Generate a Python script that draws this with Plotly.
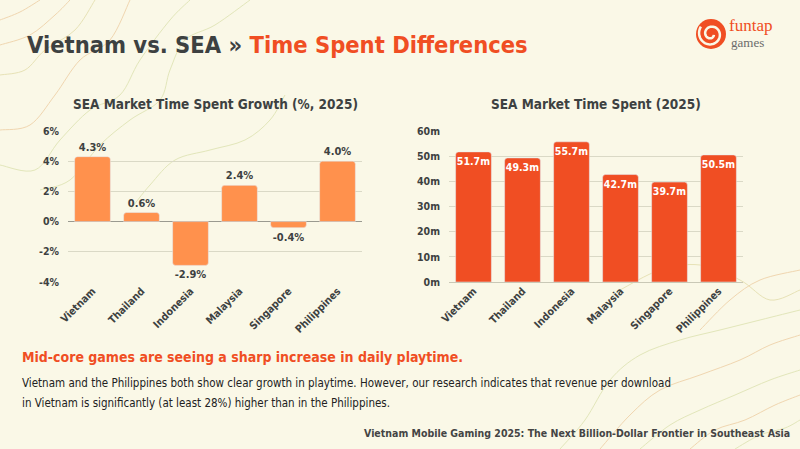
import plotly.graph_objects as go
import numpy as np

countries = ["Vietnam", "Thailand", "Indonesia", "Malaysia", "Singapore", "Philippines"]
growth_pct = [4.3, 0.6, -2.9, 2.4, -0.4, 4.0]
time_spent_m = [51.7, 49.3, 55.7, 42.7, 39.7, 50.5]
growth_ticks = [-4, -2, 0, 2, 4, 6]
time_ticks = [0, 10, 20, 30, 40, 50, 60]

W, H = 800, 449
BG = "#FAF8E7"
ORANGE_LIGHT = "#FF914D"
ORANGE_RED = "#F04E23"
DARK = "#3D4141"
FONT = "DejaVu Sans Condensed, DejaVu Sans, sans-serif"

def px(x):
    return x / W

def py(y):
    return 1 - y / H

fig = go.Figure()

fig.add_trace(go.Bar(
    x=countries, y=growth_pct, xaxis="x", yaxis="y",
    marker=dict(color=ORANGE_LIGHT),
    text=[f"{v:.1f}%" for v in growth_pct], textposition="outside",
    textangle=0, constraintext="none",
    textfont=dict(family=FONT, size=11, color=DARK, weight="bold"),
    cliponaxis=False, hoverinfo="skip",
))
fig.add_trace(go.Bar(
    x=countries, y=time_spent_m, xaxis="x2", yaxis="y2",
    marker=dict(color=ORANGE_RED),
    text=[f"{v:.1f}m" for v in time_spent_m], textposition="inside",
    insidetextanchor="end", textangle=0, constraintext="none",
    textfont=dict(family=FONT, size=10.5, color="white", weight="bold"),
    cliponaxis=False, hoverinfo="skip",
))

axis_font = dict(family=FONT, size=10.5, color=DARK, weight="bold")
grid = "#DAD9C6"

shapes = []
def bez_path(pts):
    p = [(px(a), py(b)) for a, b in pts]
    d = f"M {p[0][0]},{p[0][1]}"
    for i in range(len(p) - 1):
        p0 = p[i - 1] if i > 0 else p[i]
        p1 = p[i]
        p2 = p[i + 1]
        p3 = p[i + 2] if i + 2 < len(p) else p[i + 1]
        c1 = (p1[0] + (p2[0] - p0[0]) / 6, p1[1] + (p2[1] - p0[1]) / 6)
        c2 = (p2[0] - (p3[0] - p1[0]) / 6, p2[1] - (p3[1] - p1[1]) / 6)
        d += f" C {c1[0]},{c1[1]} {c2[0]},{c2[1]} {p2[0]},{p2[1]}"
    return d

deco = [
    ([(0, 20), (20, 12), (40, 0)], "#F0D6B0"),
    ([(0, 45), (30, 35), (55, 15), (70, 0)], "#F0D6B0"),
    ([(0, 75), (25, 70), (45, 50), (75, 30), (95, 0)], "#E7E2B6"),
    ([(0, 130), (30, 125), (55, 95), (80, 60), (110, 40), (130, 0)], "#F0D6B0"),
    ([(0, 165), (35, 170), (60, 140), (90, 110), (120, 95), (140, 60), (170, 20), (190, 0)], "#E2E6BA"),
    ([(40, 190), (70, 180), (100, 145), (130, 120), (160, 100), (170, 70), (185, 40), (215, 25), (250, 0)], "#E2E6BA"),
    ([(130, 210), (150, 185), (175, 160), (210, 150), (245, 140), (270, 120), (285, 95)], "#E2E6BA"),
    ([(560, 449), (585, 420), (610, 380), (640, 355), (680, 340), (720, 330), (760, 320), (800, 310)], "#E2E6BA"),
    ([(600, 449), (630, 415), (660, 390), (700, 375), (740, 360), (770, 345), (800, 335)], "#F0D6B0"),
    ([(640, 449), (670, 425), (700, 410), (735, 395), (770, 380), (800, 370)], "#E2E6BA"),
    ([(690, 449), (715, 430), (745, 420), (775, 405), (800, 395)], "#F0D6B0"),
    ([(735, 449), (760, 435), (785, 428), (800, 420)], "#E2E6BA"),
    ([(620, 290), (660, 270), (700, 265), (740, 280), (770, 300), (800, 290)], "#E7E2B6"),
    ([(700, 330), (730, 300), (760, 280), (800, 270)], "#F0D6B0"),
]
for pts, col in deco:
    shapes.append(dict(type="path", xref="paper", yref="paper", path=bez_path(pts),
                       line=dict(color=col, width=1), layer="below"))

cx, cy, r = 711, 34, 15
shapes.append(dict(type="circle", xref="paper", yref="paper",
                   x0=px(cx - r), x1=px(cx + r), y0=py(cy + r), y1=py(cy - r),
                   fillcolor=ORANGE_RED, line=dict(width=0)))
theta = np.linspace(0.3, 3.2 * np.pi, 80)
rad = 3 + 9.5 * (theta - theta[0]) / (theta[-1] - theta[0])
sx = cx + rad * np.cos(theta)
sy = cy + rad * np.sin(theta)
spath = "M " + " L ".join(f"{px(a)},{py(b)}" for a, b in zip(sx, sy))
shapes.append(dict(type="path", xref="paper", yref="paper", path=spath,
                   line=dict(color=BG, width=2.5)))

def ann(text, x, y, xanchor, size, color, family=FONT):
    return dict(text=text, x=px(x), y=py(y), xref="paper", yref="paper",
                xanchor=xanchor, yanchor="middle", showarrow=False,
                font=dict(family=family, size=size, color=color))

SERIF = "Liberation Serif, DejaVu Serif, serif"
annotations = [
    ann(f"<b>Vietnam vs. SEA » </b><b><span style='color:{ORANGE_RED}'>Time Spent Differences</span></b>",
        25, 45, "left", 23.5, DARK),
    ann("<b>SEA Market Time Spent Growth (%, 2025)</b>", 215, 104, "center", 13.5, DARK),
    ann("<b>SEA Market Time Spent (2025)</b>", 596, 104, "center", 13.5, DARK),
    ann("<b>Mid-core games are seeing a sharp increase in daily playtime.</b>", 20, 357, "left", 14, ORANGE_RED),
    ann("Vietnam and the Philippines both show clear growth in playtime. However, our research indicates that revenue per download",
        20, 383, "left", 11.5, "#222222"),
    ann("in Vietnam is significantly (at least 28%) higher than in the Philippines.", 20, 403, "left", 11.5, "#222222"),
    ann("<b>Vietnam Mobile Gaming 2025: The Next Billion-Dollar Frontier in Southeast Asia</b>",
        792, 433, "right", 10.5, "#444444"),
    ann("funtap", 727, 26, "left", 17, ORANGE_RED, SERIF),
    ann("games", 729, 42, "left", 13, "#6B6B6B", SERIF),
]

fig.update_layout(
    width=W, height=H,
    margin=dict(l=0, r=0, t=0, b=0, autoexpand=False),
    paper_bgcolor=BG, plot_bgcolor="rgba(0,0,0,0)",
    showlegend=False,
    bargap=0.27,
    barcornerradius=3,
    shapes=shapes,
    annotations=annotations,
    xaxis=dict(domain=[px(68), px(362)], anchor="y", tickangle=-45, tickfont=axis_font,
               showgrid=False, showline=False, ticks="", fixedrange=True, automargin=False),
    yaxis=dict(domain=[py(282), py(131)], anchor="x", range=[-4, 6], tickvals=growth_ticks,
               ticktext=[f"{v}%" for v in growth_ticks], tickfont=axis_font,
               showgrid=True, gridcolor=grid, gridwidth=1, zeroline=True, zerolinecolor="#9A9A90",
               zerolinewidth=1.2, ticklabelstandoff=8, fixedrange=True, automargin=False),
    xaxis2=dict(domain=[px(449), px(743)], anchor="y2", tickangle=-45, tickfont=axis_font,
                showgrid=False, showline=False, ticks="", fixedrange=True, automargin=False),
    yaxis2=dict(domain=[py(282), py(131)], anchor="x2", range=[0, 60], tickvals=time_ticks,
                ticktext=[f"{v}m" for v in time_ticks], tickfont=axis_font,
                showgrid=True, gridcolor=grid, gridwidth=1, zeroline=True, zerolinecolor="#C9C8B6",
                zerolinewidth=1.2, ticklabelstandoff=8, fixedrange=True, automargin=False),
)

fig.write_html("out.html")
